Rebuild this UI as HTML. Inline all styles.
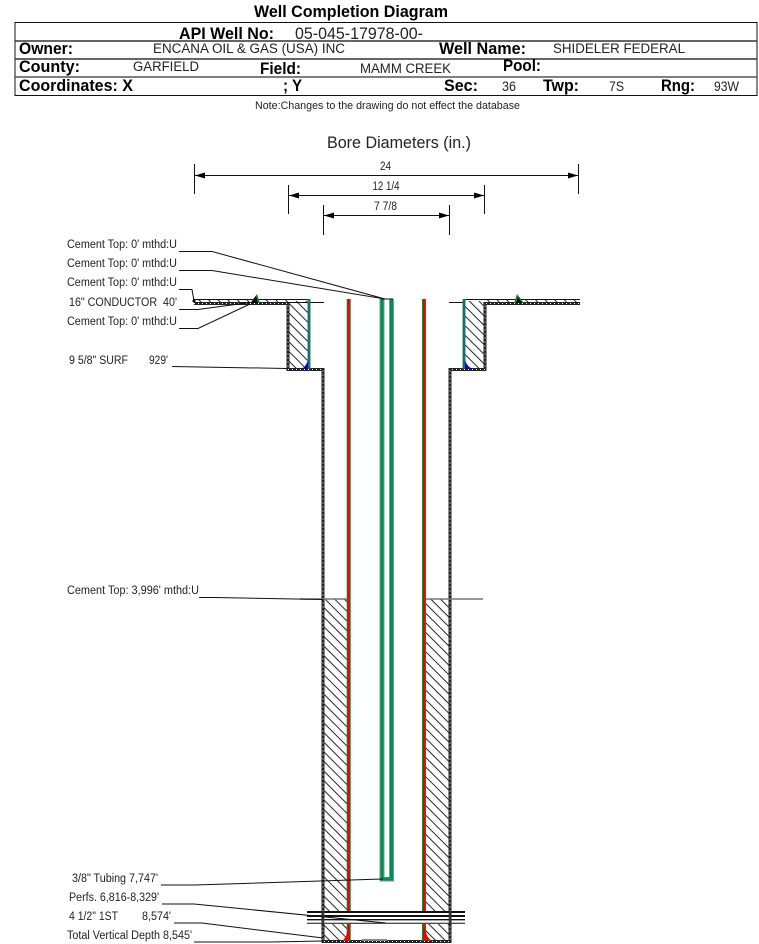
<!DOCTYPE html>
<html><head><meta charset="utf-8"><style>
html,body{margin:0;padding:0;background:#fff}
svg{display:block}
text{font-family:"Liberation Sans",sans-serif;fill:#222}
.b{font-weight:bold;fill:#000}
.l{font-size:11.5px}
</style></head><body>
<svg width="759" height="944" viewBox="0 0 759 944" xmlns="http://www.w3.org/2000/svg">
<defs>
<pattern id="h" width="6.8" height="6.8" patternUnits="userSpaceOnUse" patternTransform="rotate(45)">
<rect width="6.8" height="6.8" fill="#fff"/><line x1="0" y1="3.4" x2="6.8" y2="3.4" stroke="#111" stroke-width="0.9"/></pattern>
<marker id="a" viewBox="0 0 10 6" refX="10" refY="3" markerWidth="10" markerHeight="6" orient="auto-start-reverse" markerUnits="userSpaceOnUse"><path d="M0 0L10 3L0 6z" fill="#000"/></marker>
</defs>

<!-- header -->
<text class="b" x="254" y="17" font-size="17" textLength="194" lengthAdjust="spacingAndGlyphs">Well Completion Diagram</text>
<rect x="15" y="22.5" width="742" height="73" fill="none" stroke="#111" stroke-width="1"/>
<line x1="15" y1="41" x2="757" y2="41" stroke="#333" stroke-width="1.4"/>
<line x1="15" y1="59" x2="757" y2="59" stroke="#333" stroke-width="1.4"/>
<line x1="15" y1="77" x2="757" y2="77" stroke="#555" stroke-width="1.6"/>
<text class="b" x="179" y="39" font-size="17" textLength="95" lengthAdjust="spacingAndGlyphs">API Well No:</text>
<text x="295" y="39" font-size="16.5" textLength="128" lengthAdjust="spacingAndGlyphs">05-045-17978-00-</text>
<text class="b" x="19" y="54" font-size="17" textLength="54" lengthAdjust="spacingAndGlyphs">Owner:</text>
<text x="153" y="53" font-size="13.5" textLength="192" lengthAdjust="spacingAndGlyphs">ENCANA OIL &amp; GAS (USA) INC</text>
<text class="b" x="439" y="54" font-size="17" textLength="87" lengthAdjust="spacingAndGlyphs">Well Name:</text>
<text x="553" y="53" font-size="13.5" textLength="132" lengthAdjust="spacingAndGlyphs">SHIDELER FEDERAL</text>
<text class="b" x="19" y="72" font-size="17" textLength="61" lengthAdjust="spacingAndGlyphs">County:</text>
<text x="133" y="71" font-size="13.5" textLength="66" lengthAdjust="spacingAndGlyphs">GARFIELD</text>
<text class="b" x="260" y="74" font-size="17" textLength="41" lengthAdjust="spacingAndGlyphs">Field:</text>
<text x="360" y="73" font-size="13.5" textLength="91" lengthAdjust="spacingAndGlyphs">MAMM CREEK</text>
<text class="b" x="503" y="71" font-size="17" textLength="38" lengthAdjust="spacingAndGlyphs">Pool:</text>
<text class="b" x="19" y="91" font-size="17" textLength="114" lengthAdjust="spacingAndGlyphs">Coordinates: X</text>
<text class="b" x="283" y="91" font-size="17" textLength="19" lengthAdjust="spacingAndGlyphs">; Y</text>
<text class="b" x="444" y="91" font-size="17" textLength="34" lengthAdjust="spacingAndGlyphs">Sec:</text>
<text x="502" y="91" font-size="13.5" textLength="14" lengthAdjust="spacingAndGlyphs">36</text>
<text class="b" x="543" y="91" font-size="17" textLength="36" lengthAdjust="spacingAndGlyphs">Twp:</text>
<text x="609" y="91" font-size="13.5" textLength="15" lengthAdjust="spacingAndGlyphs">7S</text>
<text class="b" x="661" y="91" font-size="17" textLength="34" lengthAdjust="spacingAndGlyphs">Rng:</text>
<text x="714" y="91" font-size="13.5" textLength="25" lengthAdjust="spacingAndGlyphs">93W</text>
<text x="255" y="109" font-size="11" textLength="265" lengthAdjust="spacingAndGlyphs">Note:Changes to the drawing do not effect the database</text>

<!-- bore dims -->
<text x="327" y="148" font-size="17" textLength="144" lengthAdjust="spacingAndGlyphs">Bore Diameters (in.)</text>
<g stroke="#111" stroke-width="1" fill="none">
<path d="M194.5 164V194M578.5 164V194M288.5 185V214M484.5 185V214M323.5 205V235M449.5 205V235"/>
<line x1="195" y1="175.5" x2="578" y2="175.5" marker-start="url(#a)" marker-end="url(#a)"/>
<line x1="289" y1="195.5" x2="484" y2="195.5" marker-start="url(#a)" marker-end="url(#a)"/>
<line x1="324" y1="215.5" x2="449" y2="215.5" marker-start="url(#a)" marker-end="url(#a)"/>
</g>
<text class="l" x="385.5" y="170" text-anchor="middle" textLength="11" lengthAdjust="spacingAndGlyphs">24</text>
<text class="l" x="386" y="190" text-anchor="middle" textLength="27" lengthAdjust="spacingAndGlyphs">12 1/4</text>
<text class="l" x="385.5" y="210" text-anchor="middle" textLength="23" lengthAdjust="spacingAndGlyphs">7 7/8</text>

<!-- cement hatches -->
<rect x="288" y="301" width="20" height="68" fill="url(#h)"/>
<rect x="465" y="301" width="20" height="68" fill="url(#h)"/>
<rect x="323" y="599" width="24" height="312" fill="url(#h)"/>
<rect x="426" y="599" width="24" height="312" fill="url(#h)"/>
<rect x="323" y="924" width="24" height="17" fill="url(#h)"/>
<rect x="426" y="924" width="24" height="17" fill="url(#h)"/>
<rect x="194" y="300" width="94" height="3" fill="url(#h)"/>
<rect x="485" y="300" width="94" height="3" fill="url(#h)"/>

<!-- top surface lines -->
<g fill="none" stroke="#111" stroke-width="1">
<path d="M194 299.5H309M464 299.5H580"/>
<path d="M288 302.5H324M449 302.5H465"/>
</g>
<!-- walls: thick black with white dots -->
<g fill="none">
<path d="M194 303.5H288V369.5H323V941.5H450V369.5H485V303.5H580" stroke="#222" stroke-width="3"/>
<path d="M194 303.5H288V369.5H323V941.5H450V369.5H485V303.5H580" stroke="#fff" stroke-width="1" stroke-dasharray="1 3"/>
</g>

<!-- casings -->
<g fill="none">
<path d="M309 299V369M464 299V369" stroke="#2a8a4a" stroke-width="3"/>
<path d="M309 299V369M464 299V369" stroke="#0a50b0" stroke-width="1"/>
<path d="M348.7 299V911M348.7 924V941M424 299V911M424 924V941" stroke="#0a8a30" stroke-width="4"/>
<path d="M348.7 299V911M348.7 924V941M424 299V911M424 924V941" stroke="#f00000" stroke-width="2.2"/>
<path d="M382 299V879H391.5V299" stroke="#5fae72" stroke-width="5"/>
<path d="M382 299V879H391.5V299" stroke="#078a5a" stroke-width="3"/>
</g>
<rect x="384.5" y="299" width="4.5" height="578" fill="#fff"/>
<path d="M381 299H393" stroke="#111" stroke-width="1"/>

<!-- triangles -->
<path d="M342 941Q347 937 347 931H350V941z" fill="#f00000"/>
<path d="M424 931H426Q426 937 432 941H424z" fill="#f00000"/>
<path d="M301 369Q306 367 308 360V369z" fill="#0000e0"/>
<path d="M465 360Q467 367 473 369H465z" fill="#0000e0"/>
<path d="M250 303L257 294L260 303z" fill="#0a8a30"/>
<path d="M251 303L256 296L258 303z" fill="#000"/>
<path d="M514 303L517 294L524 303z" fill="#0a8a30"/>
<path d="M516 303L518 297L522 303z" fill="#000"/>

<!-- cement top 3996 -->
<path d="M300 599H347M426 599H483" stroke="#777" stroke-width="1.5" fill="none"/>

<!-- perfs -->
<rect x="324" y="911" width="125" height="13" fill="#fff"/>
<g stroke="#111" fill="none">
<path d="M307 912H465" stroke-width="2"/>
<path d="M307 916H465" stroke-width="2"/>
<path d="M307 919.7H465" stroke-width="1.4"/>
<path d="M307 923.3H465" stroke-width="1"/>
</g>
<path d="M362 940H387" stroke="#888" stroke-width="2"/>
<path d="M323 911V924M450 911V924" stroke="#333" stroke-width="2.5"/>

<!-- leaders -->
<g fill="none" stroke="#111" stroke-width="1">
<path d="M179 251.5H212L385 299"/>
<path d="M179 270.5H212L385 299"/>
<path d="M179 289.5H192L194 301"/>
<path d="M179 309.5H198L250 302.5"/>
<path d="M179 328.5H198L250 304"/>
<path d="M172 366.5L287 368.5"/>
<path d="M199 597.5H215L323 599.5"/>
<path d="M161 885H195L383 879"/>
<path d="M162 904H194L386 923"/>
<path d="M174 923H202L323 938"/>
<path d="M194 942H270L323 941"/>
</g>
<circle cx="194" cy="301" r="1.5" fill="#000"/>

<!-- labels -->
<text class="l" x="67" y="248" textLength="110" lengthAdjust="spacingAndGlyphs">Cement Top: 0' mthd:U</text>
<text class="l" x="67" y="267" textLength="110" lengthAdjust="spacingAndGlyphs">Cement Top: 0' mthd:U</text>
<text class="l" x="67" y="286" textLength="110" lengthAdjust="spacingAndGlyphs">Cement Top: 0' mthd:U</text>
<text class="l" x="69" y="306" textLength="108" lengthAdjust="spacingAndGlyphs" xml:space="preserve">16" CONDUCTOR  40'</text>
<text class="l" x="67" y="325" textLength="110" lengthAdjust="spacingAndGlyphs">Cement Top: 0' mthd:U</text>
<text class="l" x="69" y="364" textLength="59" lengthAdjust="spacingAndGlyphs">9 5/8" SURF</text>
<text class="l" x="149" y="364" textLength="19" lengthAdjust="spacingAndGlyphs">929'</text>
<text class="l" x="67" y="594" textLength="132" lengthAdjust="spacingAndGlyphs">Cement Top: 3,996' mthd:U</text>
<text class="l" x="72" y="882" textLength="86" lengthAdjust="spacingAndGlyphs">3/8" Tubing 7,747'</text>
<text class="l" x="69" y="901" textLength="90" lengthAdjust="spacingAndGlyphs">Perfs. 6,816-8,329'</text>
<text class="l" x="69" y="920" textLength="49" lengthAdjust="spacingAndGlyphs">4 1/2" 1ST</text>
<text class="l" x="142" y="920" textLength="29" lengthAdjust="spacingAndGlyphs">8,574'</text>
<text class="l" x="67" y="939" textLength="125" lengthAdjust="spacingAndGlyphs">Total Vertical Depth 8,545'</text>
</svg>
</body></html>
